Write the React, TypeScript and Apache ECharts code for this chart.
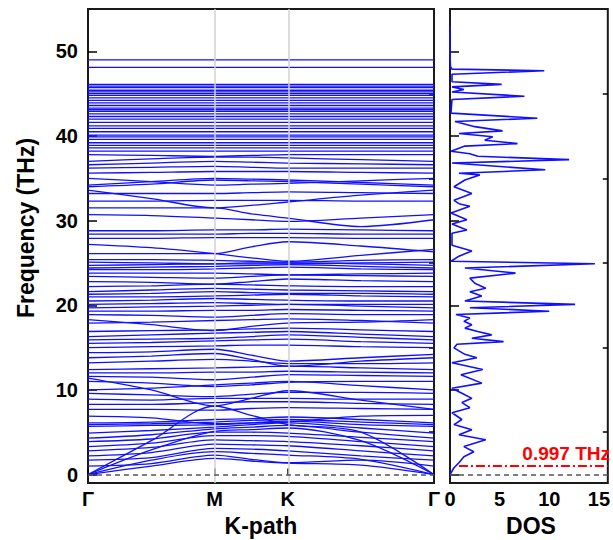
import React, { useEffect, useRef } from "react";
import * as echarts from "echarts";

// k-path sample positions (Γ, mid, M, mid, K, mid, Γ)
const kPath = [0, 0.433, 0.866, 1.116, 1.366, 1.866, 2.366];
const kTicks = [0, 0.866, 1.366, 2.366];
const kLabels = ["Γ", "M", "K", "Γ"];
const freqTicks = [0, 10, 20, 30, 40, 50];
const freqMinorTicks = [5, 15, 25, 35, 45];
const dosTicks = [0, 5, 10, 15];
const gapFreq = 0.997;

// dispersive phonon branches (THz) at kPath points
const bands: number[][] = [
  [0, 1.0, 1.9, 1.6, 1.35, 1.1, 0],
  [0, 1.7, 2.7, 2.5, 2.3, 1.8, 0],
  [0, 2.9, 5.1, 5.3, 5.5, 4.0, 0],
  [0, 4.0, 8.1, 7.0, 5.9, 5.0, 0],
  [1.0, 1.3, 2.3, 1.8, 1.4, 1.7, 1.0],
  [1.7, 2.0, 3.1, 3.0, 2.8, 2.2, 1.7],
  [2.2, 2.6, 3.6, 3.5, 3.4, 2.8, 2.2],
  [2.8, 3.2, 4.1, 4.0, 3.9, 3.4, 2.8],
  [3.3, 3.7, 4.6, 4.6, 4.5, 3.9, 3.3],
  [3.9, 4.2, 5.0, 5.0, 4.9, 4.4, 3.9],
  [4.3, 4.7, 5.4, 5.6, 5.8, 5.0, 4.3],
  [4.9, 5.2, 5.6, 5.9, 6.1, 5.5, 4.9],
  [5.7, 5.8, 5.9, 6.1, 6.3, 5.9, 5.7],
  [5.9, 6.0, 6.2, 6.4, 6.5, 6.2, 5.9],
  [6.1, 6.2, 6.5, 6.6, 6.8, 6.5, 6.1],
  [6.9, 6.7, 6.0, 6.1, 6.2, 6.9, 7.0],
  [7.7, 7.7, 7.6, 7.8, 7.9, 7.8, 7.7],
  [8.3, 8.3, 8.5, 8.6, 8.6, 8.4, 8.3],
  [8.9, 8.8, 9.0, 9.0, 9.0, 8.9, 8.9],
  [9.6, 9.4, 9.2, 9.5, 9.7, 9.7, 9.6],
  [11.4, 10.0, 8.1, 9.0, 9.9, 8.8, 7.7],
  [10.0, 10.2, 10.6, 10.8, 11.0, 10.5, 10.0],
  [11.0, 10.8, 10.4, 10.6, 10.9, 11.0, 11.0],
  [11.6, 11.5, 11.2, 11.5, 11.8, 11.7, 11.6],
  [12.0, 12.0, 12.1, 12.1, 12.2, 12.1, 12.0],
  [12.4, 12.5, 12.6, 12.7, 12.8, 12.6, 12.4],
  [13.2, 13.4, 13.6, 13.4, 13.1, 13.1, 13.2],
  [13.8, 14.0, 14.3, 13.6, 12.8, 13.4, 13.8],
  [14.4, 14.5, 14.8, 14.1, 13.4, 13.8, 14.2],
  [15.0, 15.1, 15.2, 15.3, 15.3, 15.1, 15.0],
  [15.5, 15.6, 15.8, 15.9, 16.0, 15.7, 15.5],
  [15.9, 16.0, 16.1, 16.3, 16.5, 16.2, 15.9],
  [16.3, 16.5, 16.7, 16.8, 16.9, 16.6, 16.3],
  [16.9, 17.0, 17.1, 17.2, 17.3, 17.1, 16.9],
  [18.3, 17.7, 17.0, 17.5, 17.9, 18.0, 18.3],
  [17.9, 18.0, 18.2, 18.3, 18.4, 18.2, 17.9],
  [18.9, 18.8, 18.6, 18.8, 19.0, 18.9, 18.9],
  [19.3, 19.3, 19.4, 19.4, 19.5, 19.4, 19.3],
  [19.7, 19.8, 19.9, 20.0, 20.1, 19.9, 19.7],
  [20.1, 20.2, 20.3, 20.2, 20.1, 20.1, 20.1],
  [20.5, 20.6, 20.8, 20.7, 20.6, 20.5, 20.5],
  [21.0, 21.0, 21.1, 21.2, 21.3, 21.1, 21.0],
  [21.3, 21.4, 21.6, 21.5, 21.4, 21.4, 21.3],
  [21.6, 21.8, 22.0, 21.9, 21.8, 21.7, 21.6],
  [22.2, 22.3, 22.5, 22.4, 22.3, 22.2, 22.2],
  [22.8, 22.7, 22.5, 22.8, 23.1, 22.9, 22.8],
  [23.4, 23.3, 23.2, 23.4, 23.6, 23.5, 23.4],
  [23.8, 23.8, 23.8, 23.7, 23.6, 23.7, 23.8],
  [24.2, 24.2, 24.3, 24.4, 24.5, 24.3, 24.2],
  [24.4, 24.5, 24.6, 24.7, 24.8, 24.6, 24.4],
  [24.7, 24.8, 24.9, 25.0, 25.0, 24.9, 24.7],
  [25.1, 25.0, 24.9, 24.9, 24.9, 25.0, 25.1],
  [25.4, 25.4, 25.3, 25.2, 25.1, 25.3, 25.4],
  [27.2, 26.8, 26.1, 25.6, 25.2, 25.9, 26.6],
  [26.1, 26.1, 26.1, 26.9, 27.5, 27.0, 26.3],
  [27.9, 27.9, 28.0, 28.0, 28.0, 27.9, 27.9],
  [28.4, 28.4, 28.4, 28.5, 28.5, 28.4, 28.4],
  [28.8, 28.8, 28.9, 28.9, 29.0, 28.9, 28.8],
  [30.7, 30.6, 30.3, 30.1, 29.9, 30.3, 30.7],
  [31.5, 31.5, 31.5, 30.8, 30.3, 29.3, 30.1],
  [33.6, 32.6, 31.5, 31.8, 32.2, 33.0, 33.6],
  [32.3, 32.3, 32.4, 32.4, 32.4, 32.3, 32.3],
  [33.2, 33.2, 33.2, 33.3, 33.4, 33.3, 33.2],
  [34.0, 34.3, 34.8, 34.7, 34.6, 34.3, 34.0],
  [34.2, 34.6, 35.0, 34.9, 34.8, 34.5, 34.2],
  [35.0, 34.6, 34.2, 34.3, 34.4, 34.7, 35.0],
  [35.6, 35.7, 35.8, 35.8, 35.8, 35.7, 35.6],
  [36.2, 36.3, 36.4, 36.3, 36.2, 36.2, 36.2],
  [36.6, 36.8, 37.0, 36.9, 36.8, 36.7, 36.6],
  [37.0, 37.3, 37.5, 37.5, 37.4, 37.2, 37.0],
  [37.8, 37.7, 37.6, 37.7, 37.8, 37.8, 37.8],
];

// nearly dispersionless high-frequency branches (THz)
const flatBands: number[] = [
  38.2, 38.6, 38.9, 39.2, 39.6, 39.9, 40.1, 40.5, 40.9, 41.2, 41.6, 42.0, 42.3,
  42.6, 42.9, 43.1, 43.3, 43.6, 43.9, 44.2, 44.5, 44.8, 45.0, 45.2, 45.4, 45.7,
  45.9, 46.1, 48.1, 49.0,
];

// phonon density of states
const dosFreq = [
  53, 49.5, 48.2, 47.9, 47.7, 47.3, 46.4, 46.1, 45.8, 45.5, 45.2, 44.7, 44.3,
  42.7, 42.1, 41.7, 41.1, 40.6, 40.3, 39.9, 39.5, 39.1, 38.8, 38.2, 37.9, 37.6,
  37.2, 36.8, 36.0, 35.6, 35.4, 34.8, 34.0, 33.2, 32.4, 32.0, 31.7, 30.9, 30.1,
  29.6, 28.9, 28.5, 27.1, 26.4, 25.8, 25.2, 24.9, 24.4, 23.8, 23.2, 22.6, 22.0,
  21.6, 21.1, 20.5, 20.1, 19.7, 19.3, 18.9, 18.5, 18.1, 17.7, 17.3, 16.9, 16.5,
  16.1, 15.7, 15.4, 14.96, 14.2, 13.8, 13.2, 12.4, 11.8, 10.8, 10.2, 9.6, 9.0,
  8.5, 7.9, 7.3, 6.5, 5.9, 5.3, 4.7, 4.1, 3.3, 2.7, 2.1, 1.4, 0.8, 0,
];
const dosValue = [
  0, 0, 0.05, 0.2, 9.5, 0.2, 0.2, 5.2, 0.2, 1.4, 0.2, 7.5, 0.2,
  0.1, 8.8, 0.5, 2.5, 5.3, 0.9, 4.3, 3.5, 6.8, 1.5, 0.1, 2.0, 2.8,
  12.0, 0.2, 9.6, 0.9, 3.0, 1.5, 0.4, 2.2, 0.4, 0.9, 2.0, 0.1, 1.7,
  0.2, 1.7, 0.2, 0.2, 2.2, 0.9, 0.1, 14.6, 1.5, 6.6, 2.0, 2.5, 3.6,
  2.0, 3.2, 1.5, 12.6, 2.0, 10.0, 0.6, 2.0, 1.4, 2.2, 1.5, 2.8, 4.2,
  2.2, 5.4, 0.7, 0.4, 1.5, 2.7, 0.2, 3.3, 1.1, 3.2, 0.2, 1.2, 2.2,
  1.2, 2.0, 0.2, 1.2, 0.4, 2.2, 0.9, 3.6, 1.4, 2.4, 1.4, 0.9, 0.4, 0,
];

const FONT = '"Liberation Sans", Arial, sans-serif';
const BLUE = "#1010ff";

export default function App() {
  const ref = useRef<HTMLDivElement>(null);

  useEffect(() => {
    if (!ref.current) return;
    const chart = echarts.init(ref.current, undefined, { renderer: "svg" });
    const kMax = kPath[kPath.length - 1];
    const dosMax = 15.9;

    const labelStyle = {
      fontFamily: FONT,
      fontWeight: "bold" as const,
      fontSize: 20,
      color: "#000",
    };

    const yAxisBase = (gridIndex: number, values: number[], len: number, showLabel: boolean) => ({
      type: "value" as const,
      gridIndex,
      min: -1,
      max: 55,
      axisLine: { show: false },
      splitLine: { show: false },
      axisTick: {
        show: true,
        inside: true,
        length: len,
        customValues: values,
        lineStyle: { color: "#000", width: 1.5 },
      },
      axisLabel: showLabel
        ? { ...labelStyle, customValues: values, margin: 10 }
        : { show: false },
    });

    const bandLine = { color: BLUE, width: 1.3 };
    const series: any[] = [];

    // helper series with reference lines (grid 0)
    series.push({
      type: "line",
      xAxisIndex: 0,
      yAxisIndex: 0,
      data: [],
      z: 1,
      silent: true,
      markLine: {
        silent: true,
        symbol: ["none", "none"],
        label: { show: false },
        animation: false,
        data: [
          { xAxis: kTicks[1], lineStyle: { color: "#d2d2d2", width: 1.5, type: "solid" } },
          { xAxis: kTicks[2], lineStyle: { color: "#d2d2d2", width: 1.5, type: "solid" } },
          { yAxis: 0, lineStyle: { color: "#555", width: 1.5, type: [5, 4] } },
        ],
      },
    });

    bands.forEach((b) => {
      series.push({
        type: "line",
        xAxisIndex: 0,
        yAxisIndex: 0,
        data: kPath.map((k, i) => [k, b[i]]),
        smooth: 0.3,
        symbol: "none",
        silent: true,
        z: 3,
        color: BLUE,
        lineStyle: bandLine,
      });
    });

    flatBands.forEach((v) => {
      series.push({
        type: "line",
        xAxisIndex: 0,
        yAxisIndex: 0,
        data: [
          [kPath[0], v],
          [kMax, v],
        ],
        symbol: "none",
        silent: true,
        z: 3,
        color: BLUE,
        lineStyle: bandLine,
      });
    });

    // DOS panel
    series.push({
      type: "line",
      xAxisIndex: 1,
      yAxisIndex: 2,
      data: [],
      z: 1,
      silent: true,
      markLine: {
        silent: true,
        symbol: ["none", "none"],
        label: { show: false },
        animation: false,
        data: [
          { yAxis: 0, lineStyle: { color: "#555", width: 1.5, type: [5, 4] } },
          [
            { coord: [0.9, gapFreq], lineStyle: { color: "#ff0000", width: 2, type: [9, 3, 2, 3] } },
            { coord: [dosMax, gapFreq] },
          ],
        ],
      },
    });
    series.push({
      type: "line",
      xAxisIndex: 1,
      yAxisIndex: 2,
      data: dosFreq.map((f, i) => [dosValue[i], f]),
      symbol: "none",
      silent: true,
      z: 3,
      color: BLUE,
      lineStyle: { color: BLUE, width: 1.6 },
    });

    chart.setOption({
      animation: false,
      backgroundColor: "#fff",
      grid: [
        { left: 88, top: 9, width: 346, height: 474, show: true, borderColor: "#1a1a1a", borderWidth: 2, backgroundColor: "transparent" },
        { left: 450, top: 9, width: 162, height: 474, show: true, borderColor: "#1a1a1a", borderWidth: 2, backgroundColor: "transparent" },
      ],
      xAxis: [
        {
          type: "value",
          gridIndex: 0,
          min: 0,
          max: kMax,
          axisLine: { show: false },
          splitLine: { show: false },
          axisTick: {
            show: true,
            inside: true,
            length: 6,
            customValues: kTicks,
            lineStyle: { color: "#000", width: 1.5 },
          },
          axisLabel: {
            ...labelStyle,
            margin: 6,
            customValues: kTicks,
            formatter: (v: number) => {
              let best = 0;
              kTicks.forEach((t, i) => {
                if (Math.abs(t - v) < Math.abs(kTicks[best] - v)) best = i;
              });
              return kLabels[best];
            },
          },
        },
        {
          type: "value",
          gridIndex: 1,
          min: 0,
          max: dosMax,
          axisLine: { show: false },
          splitLine: { show: false },
          axisTick: { show: false },
          axisLabel: { ...labelStyle, margin: 6, customValues: dosTicks },
        },
      ],
      yAxis: [
        yAxisBase(0, freqTicks, 9, true),
        yAxisBase(0, freqMinorTicks, 5, false),
        yAxisBase(1, freqTicks, 9, false),
        yAxisBase(1, freqMinorTicks, 5, false),
      ],
      graphic: [
        {
          type: "text",
          x: 26,
          y: 228,
          rotation: Math.PI / 2,
          style: {
            text: "Frequency (THz)",
            font: `bold 23px ${FONT}`,
            fill: "#000",
            align: "center",
            verticalAlign: "middle",
          },
        },
        {
          type: "text",
          x: 261,
          y: 526,
          style: {
            text: "K-path",
            font: `bold 23px ${FONT}`,
            fill: "#000",
            align: "center",
            verticalAlign: "middle",
          },
        },
        {
          type: "text",
          x: 531,
          y: 526,
          style: {
            text: "DOS",
            font: `bold 23px ${FONT}`,
            fill: "#000",
            align: "center",
            verticalAlign: "middle",
          },
        },
        {
          type: "text",
          x: 610,
          y: 453,
          style: {
            text: `${gapFreq} THz`,
            font: `bold 19px ${FONT}`,
            fill: "#ff0000",
            align: "right",
            verticalAlign: "middle",
          },
        },
      ],
      series,
    });

    return () => chart.dispose();
  }, []);

  return (
    <div
      ref={ref}
      style={{ position: "fixed", left: 0, top: 0, width: 613, height: 540 }}
    />
  );
}
